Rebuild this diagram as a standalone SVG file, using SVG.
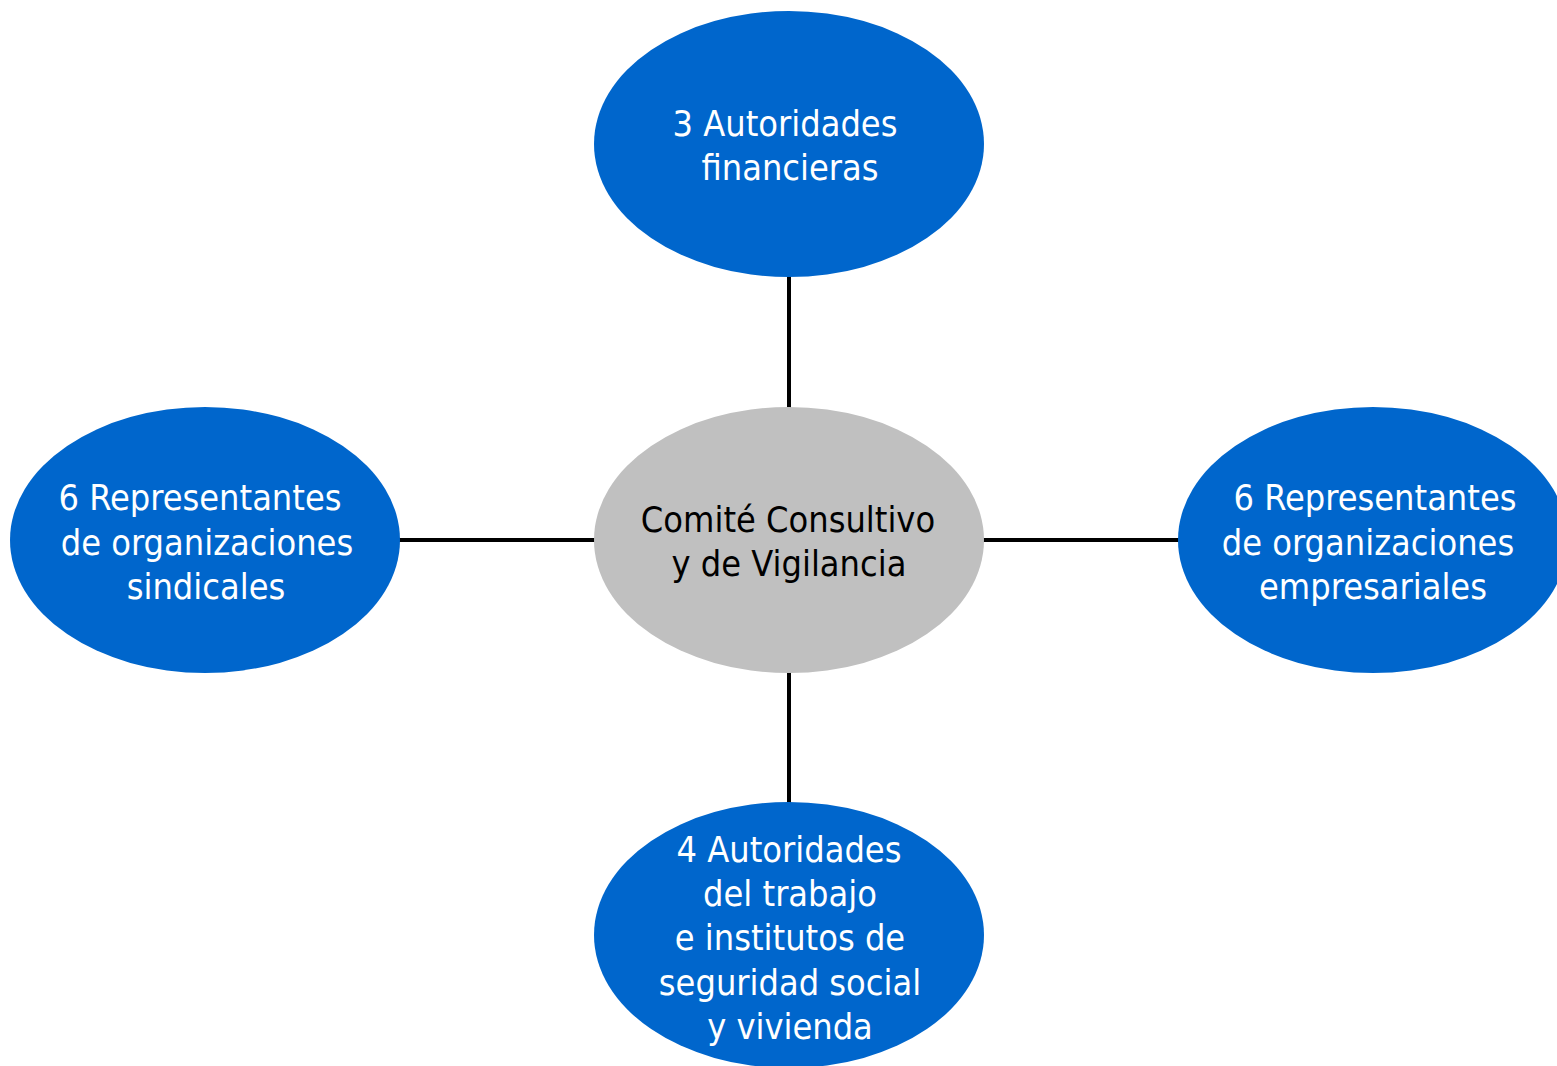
<svg xmlns="http://www.w3.org/2000/svg" width="1557" height="1066" viewBox="0 0 1557 1066">
<style>
.blue{fill:#0066CC}
.gray{fill:#C0C0C0}
.lbl{font-family:"DejaVu Sans Condensed","DejaVu Sans",sans-serif;font-size:35.8px;text-anchor:middle}
.w{fill:#FFFFFF}
.k{fill:#000000}
.conn{stroke:#000000;stroke-width:4;fill:none}
</style>
<rect width="1557" height="1066" fill="#FFFFFF"/>
<g id="connectors">
<line class="conn" x1="789" y1="275" x2="789" y2="409"/>
<line class="conn" x1="789" y1="671" x2="789" y2="805"/>
<line class="conn" x1="398" y1="540" x2="596" y2="540"/>
<line class="conn" x1="982" y1="540" x2="1180" y2="540"/>
</g>
<g id="top">
<ellipse class="blue" cx="789" cy="144" rx="195" ry="133"/>
<text class="lbl w" x="785" y="136">3 Autoridades</text>
<text class="lbl w" x="790" y="180">financieras</text>
</g>
<g id="center">
<ellipse class="gray" cx="789" cy="540" rx="195" ry="133"/>
<text class="lbl k" x="788" y="532">Comité Consultivo</text>
<text class="lbl k" x="789" y="576">y de Vigilancia</text>
</g>
<g id="left">
<ellipse class="blue" cx="205" cy="540" rx="195" ry="133"/>
<text class="lbl w" x="200" y="510">6 Representantes</text>
<text class="lbl w" x="207" y="555">de organizaciones</text>
<text class="lbl w" x="206" y="599">sindicales</text>
</g>
<g id="right">
<ellipse class="blue" cx="1373" cy="540" rx="195" ry="133"/>
<text class="lbl w" x="1375" y="510">6 Representantes</text>
<text class="lbl w" x="1368" y="555">de organizaciones</text>
<text class="lbl w" x="1373" y="599">empresariales</text>
</g>
<g id="bottom">
<ellipse class="blue" cx="789" cy="935" rx="195" ry="133"/>
<text class="lbl w" x="789" y="862">4 Autoridades</text>
<text class="lbl w" x="790" y="906">del trabajo</text>
<text class="lbl w" x="790" y="950">e institutos de</text>
<text class="lbl w" x="790" y="995">seguridad social</text>
<text class="lbl w" x="790" y="1039">y vivienda</text>
</g>
</svg>
